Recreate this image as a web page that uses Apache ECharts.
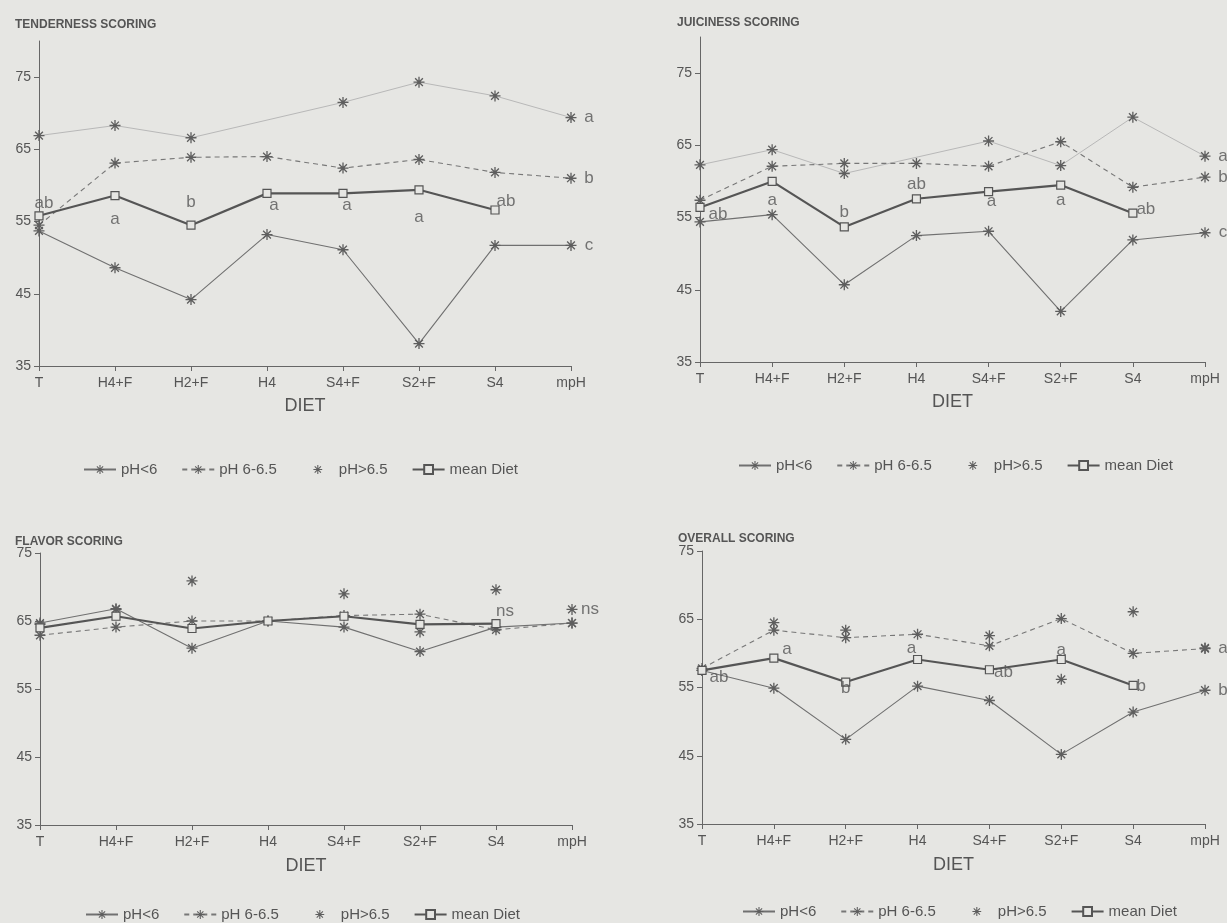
<!DOCTYPE html>
<html>
<head>
<meta charset="utf-8">
<script src="https://cdn.jsdelivr.net/npm/echarts@6/dist/echarts.min.js"></script>
<style>
html,body{margin:0;padding:0;background:#e6e6e3;}
#c{width:1227px;height:923px;}
</style>
</head>
<body>
<div id="c"></div>
<script>
// ---------------- DATA ----------------
const categories = ['T', 'H4+F', 'H2+F', 'H4', 'S4+F', 'S2+F', 'S4', 'mpH'];
const yTickValues = [35, 45, 55, 65, 75];
const seriesNames = ['pH<6', 'pH 6-6.5', 'pH>6.5', 'mean Diet'];
const panelTitles = ['TENDERNESS SCORING', 'JUICINESS SCORING', 'FLAVOR SCORING', 'OVERALL SCORING'];
const axisName = 'DIET';

// Tenderness
const tendLow  = [53.7, 48.6, 44.2, 53.2, 51.1, 38.1, 51.7, 51.7];
const tendMid  = [54.5, 63.1, 63.9, 64.0, 62.4, 63.6, 61.8, 61.0];
const tendHigh = [66.9, 68.3, 66.6, null, 71.5, 74.3, 72.4, 69.4];
const tendMean = [55.8, 58.6, 54.5, 58.9, 58.9, 59.4, 56.6, null];
const tendMeanLetters = ['ab', 'a', 'b', 'a', 'a', 'a', 'ab', ''];
const tendEndLetters = ['c', 'b', 'a'];   // for low, mid, high at mpH

// Juiciness
const juicLow  = [54.4, 55.4, 45.7, 52.5, 53.1, 42.0, 51.9, 52.9];
const juicMid  = [57.4, 62.1, 62.5, 62.5, 62.1, 65.5, 59.2, 60.6];
const juicHigh = [62.3, 64.4, 61.1, null, 65.6, 62.2, 68.9, 63.5];
const juicMean = [56.4, 60.0, 53.7, 57.6, 58.6, 59.5, 55.6, null];
const juicMeanLetters = ['ab', 'a', 'b', 'ab', 'a', 'a', 'ab', ''];
const juicEndLetters = ['c', 'b', 'a'];

// Flavor
const flavLow  = [64.7, 66.8, 61.0, 65.0, 64.1, 60.5, 64.1, 64.7];
const flavMid  = [62.9, 64.1, 65.0, 65.0, 65.8, 66.0, 63.7, 64.7];
const flavHigh = [64.5, 66.7, 70.9, null, 69.0, 63.4, 69.6, 66.7];
const flavMean = [64.0, 65.7, 63.9, 65.0, 65.7, 64.5, 64.6, null];
const flavMeanLetters = ['', '', '', '', '', '', 'ns', ''];
const flavEndLetters = ['', '', 'ns'];

// Overall
const overLow  = [57.5, 54.9, 47.4, 55.2, 53.1, 45.2, 51.4, 54.6];
const overMid  = [57.8, 63.4, 62.3, 62.8, 61.1, 65.1, 60.0, 60.7];
const overHigh = [57.5, 64.5, 63.4, null, 62.6, 56.2, 66.1, 60.8];
const overMean = [57.5, 59.3, 55.8, 59.1, 57.6, 59.1, 55.3, null];
const overMeanLetters = ['ab', 'a', 'b', 'a', 'ab', 'a', 'b', ''];
const overEndLetters = ['b', 'a', ''];

// ---------------- LAYOUT / STYLE ----------------
const FONT = 'Liberation Sans, Arial, sans-serif';
const TXT = '#555';
const BG = '#e6e6e3';
const STAR = 'path://M0 8.8L20 8.8L20 11.2L0 11.2Z M8.8 0L11.2 0L11.2 20L8.8 20Z M3.78 2.08L17.92 16.22L16.22 17.92L2.08 3.78Z M17.92 3.78L3.78 17.92L2.08 16.22L16.22 2.08Z';

const panels = [
  { grid: {left: 39, top: 41, width: 532, height: 325}, yMax: 80, title: [10, 14], legend: [78, 457], nameGap: 31, highLine: true,
    low: tendLow, mid: tendMid, high: tendHigh, mean: tendMean, meanLetters: tendMeanLetters, endLetters: tendEndLetters,
    meanOffsets: [[5, -12], [0, 24], [0, -23], [7, 12], [4, 12], [0, 28], [11, -9]] },
  { grid: {left: 700, top: 37, width: 505, height: 325}, yMax: 80, title: [672, 12], legend: [733, 453], nameGap: 31, highLine: true,
    low: juicLow, mid: juicMid, high: juicHigh, mean: juicMean, meanLetters: juicMeanLetters, endLetters: juicEndLetters,
    meanOffsets: [[18, 7], [0, 19], [0, -15], [0, -14], [3, 10], [0, 15], [13, -4]] },
  { grid: {left: 40, top: 553, width: 532, height: 272}, yMax: 75, title: [10, 531], legend: [80, 902], nameGap: 32, highLine: false,
    low: flavLow, mid: flavMid, high: flavHigh, mean: flavMean, meanLetters: flavMeanLetters, endLetters: flavEndLetters,
    meanOffsets: [[0,0],[0,0],[0,0],[0,0],[0,0],[0,0],[9, -12]] },
  { grid: {left: 702, top: 551, width: 503, height: 273}, yMax: 75, title: [673, 528], legend: [737, 899], nameGap: 32, highLine: false,
    low: overLow, mid: overMid, high: overHigh, mean: overMean, meanLetters: overMeanLetters, endLetters: overEndLetters,
    meanOffsets: [[17, 7], [13, -9], [0, 6], [-6, -11], [14, 3], [0, -9], [8, 1]] }
];
const endOffsets = [[18, 0], [18, 0], [18, 0]];

// ---------------- BUILD ----------------
const option = {
  backgroundColor: BG,
  animation: false,
  textStyle: {fontFamily: FONT, color: TXT},
  title: [], grid: [], xAxis: [], yAxis: [], legend: [], series: []
};

panels.forEach((p, k) => {
  option.title.push({text: panelTitles[k], left: p.title[0], top: p.title[1],
    textStyle: {fontFamily: FONT, fontSize: 12, fontWeight: 'bold', color: TXT}});
  option.grid.push(Object.assign({containLabel: false}, p.grid));
  option.xAxis.push({
    type: 'category', gridIndex: k, data: categories, boundaryGap: false,
    name: axisName, nameLocation: 'middle', nameGap: p.nameGap,
    nameTextStyle: {fontFamily: FONT, fontSize: 18, color: TXT},
    axisLine: {lineStyle: {color: '#666', width: 1}},
    axisTick: {show: true, length: 5, lineStyle: {color: '#666'}},
    axisLabel: {interval: 0, margin: 10, fontFamily: FONT, fontSize: 14, color: TXT},
    splitLine: {show: false}
  });
  option.yAxis.push({
    type: 'value', gridIndex: k, min: 35, max: p.yMax, interval: 10,
    axisLine: {show: true, lineStyle: {color: '#666', width: 1}},
    axisTick: {show: true, length: 5, lineStyle: {color: '#666'}, customValues: yTickValues},
    axisLabel: {margin: 8, fontFamily: FONT, fontSize: 14, color: TXT, customValues: yTickValues},
    splitLine: {show: false}
  });
  option.legend.push({
    left: p.legend[0], top: p.legend[1], orient: 'horizontal',
    itemWidth: 32, itemHeight: 11, itemGap: 24,
    textStyle: {fontFamily: FONT, fontSize: 15, color: TXT},
    data: [
      {name: seriesNames[0]}, {name: seriesNames[1]},
      {name: seriesNames[2], lineStyle: {opacity: 0}},
      {name: seriesNames[3]}
    ],
    selectedMode: false
  });
  const common = {type: 'line', xAxisIndex: k, yAxisIndex: k, silent: true, connectNulls: true};
  option.series.push(Object.assign({}, common, {
    name: seriesNames[0], data: p.low, symbol: STAR, symbolSize: 11, z: 3,
    lineStyle: {color: '#707070', width: 1.1}, itemStyle: {color: '#5e5e5e'}
  }));
  option.series.push(Object.assign({}, common, {
    name: seriesNames[1], data: p.mid, symbol: STAR, symbolSize: 11, z: 3,
    lineStyle: {color: '#777', width: 1.1, type: [5, 4]}, itemStyle: {color: '#5e5e5e'}
  }));
  option.series.push(Object.assign({}, common, {
    name: seriesNames[2], data: p.high, symbol: STAR, symbolSize: 11, z: 2,
    lineStyle: p.highLine ? {color: '#b8b8b8', width: 1} : {opacity: 0},
    itemStyle: {color: '#5e5e5e'}
  }));
  option.series.push(Object.assign({}, common, {
    name: seriesNames[3], data: p.mean, symbol: 'rect', symbolSize: 8, z: 4,
    lineStyle: {color: '#555', width: 2.2},
    itemStyle: {color: BG, borderColor: '#555', borderWidth: 1.2}
  }));
  // letters
  const letterData = [];
  p.meanLetters.forEach((L, i) => {
    if (L && p.mean[i] != null) {
      letterData.push({value: [i, p.mean[i]], label: {formatter: L, offset: p.meanOffsets[i]}});
    }
  });
  [p.low, p.mid, p.high].forEach((arr, j) => {
    const L = p.endLetters[j];
    const last = arr.length - 1;
    if (L && arr[last] != null) {
      letterData.push({value: [last, arr[last]], label: {formatter: L, offset: endOffsets[j]}});
    }
  });
  option.series.push({
    type: 'scatter', xAxisIndex: k, yAxisIndex: k, silent: true, z: 5,
    symbolSize: 1, itemStyle: {color: 'rgba(0,0,0,0)'},
    label: {show: true, position: 'inside', fontFamily: FONT, fontSize: 17, color: TXT},
    data: letterData
  });
});

const chart = echarts.init(document.getElementById('c'), null, {renderer: 'canvas'});
chart.setOption(option);
</script>
</body>
</html>
